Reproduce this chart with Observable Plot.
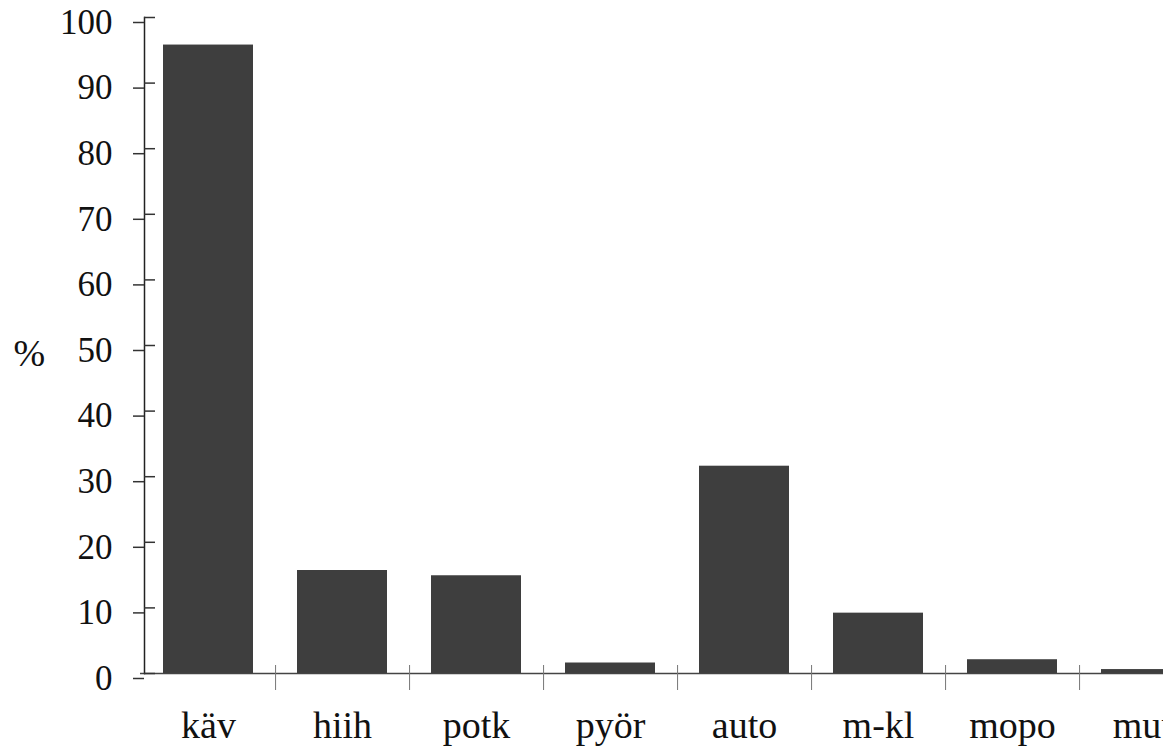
<!DOCTYPE html>
<html>
<head>
<meta charset="utf-8">
<script src="https://cdn.jsdelivr.net/npm/d3@7"></script>
<script src="https://cdn.jsdelivr.net/npm/@observablehq/plot@0.6"></script>
<style>
  html, body { margin: 0; padding: 0; background: #fff; overflow: hidden; width: 1163px; height: 753px; }
  #chart svg { display: block; max-width: none !important; }
</style>
</head>
<body>
<div id="chart"></div>
<script>
const categories = ["käv", "hiih", "potk", "pyör", "auto", "m-kl", "mopo", "muu"];
const values = [95.8, 15.7, 14.9, 1.6, 31.6, 9.2, 2.1, 0.6];
const yTicks = [0, 10, 20, 30, 40, 50, 60, 70, 80, 90, 100];
const yLabel = "%";

const data = categories.map((c, i) => ({cat: c, value: values[i]}));

const W = 1230, H = 753;
const mL = 140, mR = 17, mT = 17, mB = 80;
const halfStep = (W - mL - mR) / categories.length / 2;
const font = "'Liberation Serif', 'Times New Roman', serif";

const chart = Plot.plot({
  width: W,
  height: H,
  marginLeft: mL,
  marginRight: mR,
  marginTop: mT,
  marginBottom: mB,
  style: {fontFamily: font, fontSize: "34px", color: "#111", background: "#fff"},
  x: {domain: categories, paddingInner: 0.33, paddingOuter: 0.165},
  y: {domain: [0, 100]},
  marks: [
    Plot.barY(data, {x: "cat", y: "value", fill: "#3e3e3e"}),
    Plot.ruleY([0], {stroke: "#444", strokeWidth: 1.5}),
    Plot.frame({anchor: "left", stroke: "#222", strokeWidth: 1.5, dx: 4}),
    Plot.axisY({ticks: yTicks, tickSize: 11, tickPadding: 21, label: null, stroke: "#333", strokeWidth: 1.5, fontSize: 35, dx: 4, dy: 5}),
    Plot.axisY({ticks: yTicks, tickSize: -11, text: null, label: null, stroke: "#333", strokeWidth: 1.5, dx: 4}),
    Plot.axisX({ticks: categories.slice(0, 7), dx: halfStep, tickSize: 25, dy: -8, text: null, label: null, stroke: "#777", strokeWidth: 1}),
    Plot.axisX({tickSize: 0, tickPadding: 38, label: null, fontSize: 38}),
    Plot.text([yLabel], {frameAnchor: "left", dx: -110, dy: 8, fontSize: 38, fill: "#111"})
  ]
});
chart.style.maxWidth = "none";
// shift the "%" label toward the left edge as in the reference
chart.querySelectorAll("text").forEach(t => {
  if (t.textContent === yLabel) t.setAttribute("transform", (t.getAttribute("transform") || "") + " translate(-17,0)");
});
document.getElementById("chart").appendChild(chart);
</script>
</body>
</html>
